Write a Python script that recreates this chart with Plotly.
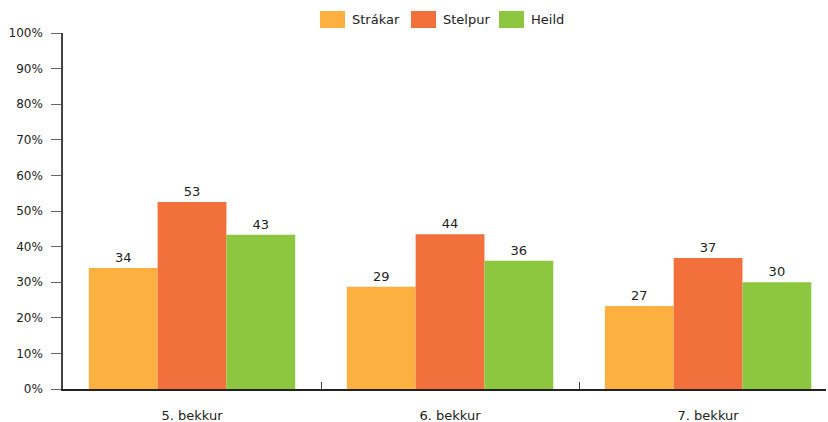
import plotly.graph_objects as go

categories = ["5. bekkur", "6. bekkur", "7. bekkur"]
series_names = ["Strákar", "Stelpur", "Heild"]
strakar = [34, 28.7, 23.3]
stelpur = [52.5, 43.5, 36.8]
heild = [43.3, 36, 30]
strakar_labels = ["34", "29", "27"]
stelpur_labels = ["53", "44", "37"]
heild_labels = ["43", "36", "30"]
colors = ["#FBB040", "#F2703B", "#8DC63F"]

FONT = "DejaVu Sans"
W, H = 828, 422
ML, MR, MT, MB = 63, 2, 33, 33
PW, PH = W - ML - MR, H - MT - MB

fig = go.Figure()
for name, vals, labs, col in zip(series_names, [strakar, stelpur, heild],
                                 [strakar_labels, stelpur_labels, heild_labels], colors):
    fig.add_trace(go.Bar(
        x=categories, y=vals, name=name, marker_color=col, marker_line_width=0,
        text=labs, textposition="outside", cliponaxis=False, showlegend=False,
        textfont=dict(family=FONT, size=13, color="#222"), hoverinfo="skip",
    ))

# custom legend (larger swatches like the reference)
legend_swatch_px = [320, 411, 499]
shapes, annotations = [], []
for name, col, px in zip(series_names, colors, legend_swatch_px):
    x0 = (px - ML) / PW
    x1 = (px + 25 - ML) / PW
    y0 = 1 + (MT - 28) / PH
    y1 = 1 + (MT - 11) / PH
    shapes.append(dict(type="rect", xref="paper", yref="paper", x0=x0, x1=x1, y0=y0, y1=y1,
                       fillcolor=col, line=dict(width=0)))
    annotations.append(dict(xref="paper", yref="paper", x=(px + 30 - ML) / PW, y=1 + (MT - 19.5) / PH,
                            text=name, showarrow=False, xanchor="left", yanchor="middle",
                            font=dict(family=FONT, size=13, color="#222")))

fig.update_layout(
    width=W, height=H,
    barmode="group", bargap=0.2, bargroupgap=0,
    plot_bgcolor="white", paper_bgcolor="white",
    margin=dict(l=ML, r=MR, t=MT, b=MB, autoexpand=False),
    font=dict(family=FONT, size=13, color="#222"),
    showlegend=False,
    shapes=shapes, annotations=annotations,
    xaxis=dict(range=[-0.5, 2.457], showline=True, linecolor="#222", linewidth=1.5,
               tickson="boundaries", ticks="inside", ticklen=7, tickcolor="#444",
               showgrid=False, tickfont=dict(size=13), ticklabelstandoff=14),
    yaxis=dict(range=[0, 100], dtick=10, ticksuffix="%", showgrid=False,
               showline=True, linecolor="#444", linewidth=1.5,
               ticks="outside", ticklen=10, tickcolor="#666",
               tickfont=dict(size=12), zeroline=False, ticklabelstandoff=6),
)
fig.write_html("out.html", config={"displayModeBar": False},
               post_script="document.body.style.margin='0';document.body.style.overflow='hidden';")
